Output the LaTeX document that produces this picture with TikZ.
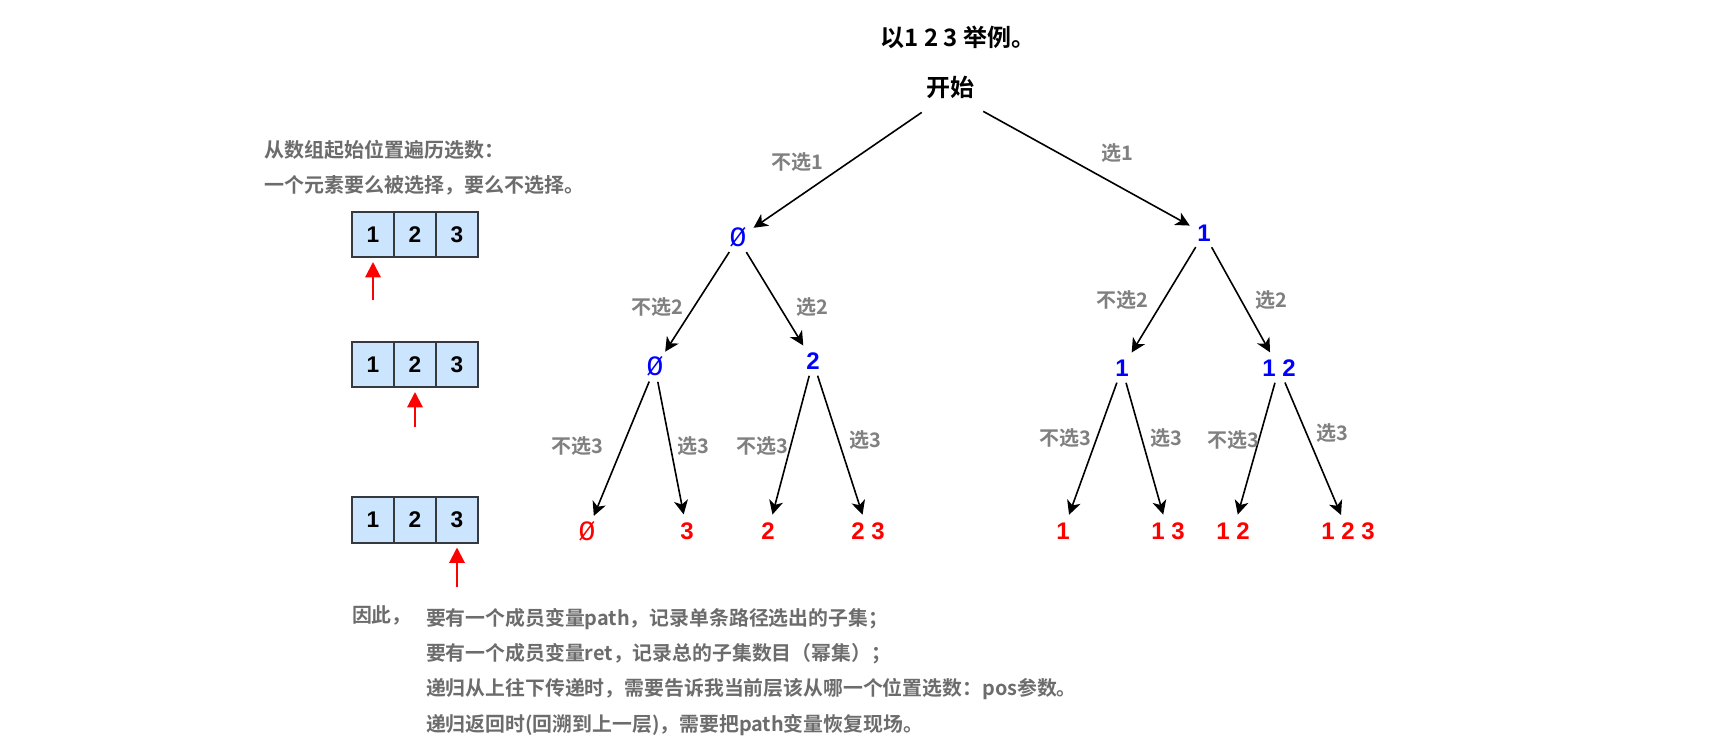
\documentclass[tikz,border=0pt]{standalone}
\usepackage{fontspec}
\setmainfont{Noto Sans CJK SC}[BoldFont={Noto Sans CJK SC Bold}]
\newfontfamily\arialfont{Liberation Sans}
\newfontfamily\monofont{Liberation Mono}
\usepackage{tikz}
\usetikzlibrary{positioning,arrows.meta}
\colorlet{nodeblue}{blue}
\colorlet{leafred}{red}
\definecolor{labelgray}{RGB}{128,128,128}
\definecolor{notegray}{RGB}{108,108,108}
\definecolor{cellblue}{RGB}{204,229,255}
\definecolor{cellborder}{RGB}{54,57,61}
\newcommand{\nullset}{{\monofont\mdseries\fontsize{21}{22}\selectfont Ø}}

\begin{document}
\begin{tikzpicture}[x=0.75pt, y=-0.75pt,
    every node/.style={inner sep=0pt, outer sep=0pt},
    tree/.style={font=\arialfont\bfseries\fontsize{18}{20}\selectfont, anchor=base, text height=12.8pt, text depth=0pt},
    inner/.style={tree, text=nodeblue},
    leaf/.style={tree, text=leafred},
    lbl/.style={font=\bfseries\fontsize{15}{17}\selectfont, text=labelgray},
    link/.style={-{Stealth[length=10.5pt, width=10.5pt, inset=3pt]}, line width=1.2pt, shorten <=4.5pt, shorten >=6.5pt},
    cell/.style={draw=cellborder, fill=cellblue, line width=1.5pt, minimum width=31.5pt, minimum height=33.75pt, font=\arialfont\bfseries\fontsize{17}{19}\selectfont},
    ptr/.style={draw=red, line width=1.5pt, -{Triangle[length=11.5pt, width=11.5pt]}, shorten >=3.75pt},
    note/.style={font=\bfseries\fontsize{15}{17}\selectfont, text=notegray, anchor=west},
    summary/.style={font=\bfseries\fontsize{14.9}{17}\selectfont, text=notegray, anchor=west}]
    \useasboundingbox (0,0) rectangle (1725,755);

    \node[font=\bfseries\fontsize{18}{20}\selectfont] (title) at (958,37) {以1 2 3 举例。};
    \node[font=\bfseries\fontsize{18}{20}\selectfont, text height=12pt, text depth=6pt, outer sep=3pt] (start) at (950,93) {开始};

    \node[inner] (n0) at (738,247) {\nullset};
    \node[inner] (n1) at (1204,242) {1};
    \node[inner] (n00) at (655,376) {\nullset};
    \node[inner] (n01) at (813,370) {2};
    \node[inner] (n10) at (1122,377) {1};
    \node[inner] (n11) at (1279,377) {1 2};

    \node[leaf] (n000) at (587,541) {\nullset};
    \node[leaf] (n001) at (687,540) {3};
    \node[leaf] (n010) at (768,540) {2};
    \node[leaf] (n011) at (868,540) {2 3};
    \node[leaf] (n100) at (1063,540) {1};
    \node[leaf] (n101) at (1168,540) {1 3};
    \node[leaf] (n110) at (1233,540) {1 2};
    \node[leaf] (n111) at (1348,540) {1 2 3};

    \draw[link] (start) -- (n0);
    \draw[link] (start) -- (n1);
    \draw[link] (n0) -- (n00);
    \draw[link] (n0) -- (n01);
    \draw[link] (n1) -- (n10);
    \draw[link] (n1) -- (n11);
    \draw[link] (n00) -- (n000);
    \draw[link] (n00) -- (n001);
    \draw[link] (n01) -- (n010);
    \draw[link] (n01) -- (n011);
    \draw[link] (n10) -- (n100);
    \draw[link] (n10) -- (n101);
    \draw[link] (n11) -- (n110);
    \draw[link] (n11) -- (n111);

    \node[lbl] (skip1) at (797,162) {不选1};
    \node[lbl] (take1) at (1117,153) {选1};
    \node[lbl] (skip2a) at (657,307) {不选2};
    \node[lbl] (take2a) at (812,307) {选2};
    \node[lbl] (skip2b) at (1122,300) {不选2};
    \node[lbl] (take2b) at (1271,300) {选2};
    \node[lbl] (skip3a) at (577,446) {不选3};
    \node[lbl] (take3a) at (693,446) {选3};
    \node[lbl] (skip3b) at (762,446) {不选3};
    \node[lbl] (take3b) at (865,440) {选3};
    \node[lbl] (skip3c) at (1065,438) {不选3};
    \node[lbl] (take3c) at (1166,438) {选3};
    \node[lbl] (skip3d) at (1233,440) {不选3};
    \node[lbl] (take3d) at (1332,433) {选3};

    \node[note] (intro1) at (264,150) {从数组起始位置遍历选数：};
    \node[note] (intro2) at (264,185) {一个元素要么被选择，要么不选择。};

    \node[cell] (r1a) at (373,234.5) {1};
    \node[cell, right=0pt of r1a] (r1b) {2};
    \node[cell, right=0pt of r1b] (r1c) {3};
    \node[cell] (r2a) at (373,364.5) {1};
    \node[cell, right=0pt of r2a] (r2b) {2};
    \node[cell, right=0pt of r2b] (r2c) {3};
    \node[cell] (r3a) at (373,520) {1};
    \node[cell, right=0pt of r3a] (r3b) {2};
    \node[cell, right=0pt of r3b] (r3c) {3};

    \coordinate (p1) at (373,300);
    \coordinate (p2) at (415,427);
    \coordinate (p3) at (457,587);
    \draw[ptr] (p1) -- (r1a);
    \draw[ptr] (p2) -- (r2b);
    \draw[ptr] (p3) -- (r3c);

    \node[summary] (hence) at (352,615) {因此，};
    \node[summary] (line1) at (426,619) {要有一个成员变量path，记录单条路径选出的子集；};
    \node[summary] (line2) at (426,654) {要有一个成员变量ret，记录总的子集数目（幂集）；};
    \node[summary] (line3) at (426,689) {递归从上往下传递时，需要告诉我当前层该从哪一个位置选数：pos参数。};
    \node[summary] (line4) at (426,725) {递归返回时(回溯到上一层)，需要把path变量恢复现场。};
\end{tikzpicture}
\end{document}
